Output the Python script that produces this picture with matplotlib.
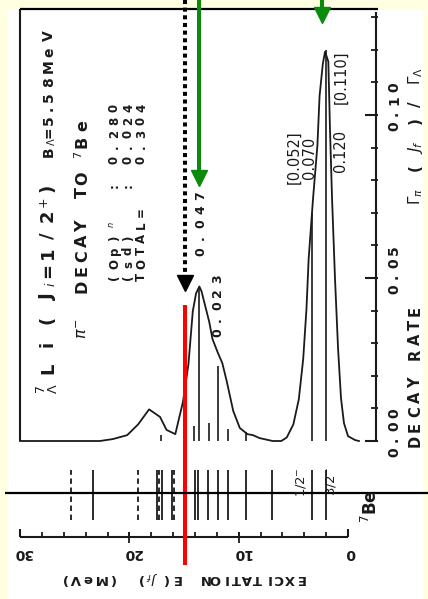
import numpy as np
import matplotlib
matplotlib.use("Agg")
import matplotlib.pyplot as plt
from matplotlib.transforms import Affine2D
from matplotlib.patches import Rectangle

W, H = 428, 599
INK = "#1a1a1a"

# pi- decay rate of 7-Lambda-Li to 7Be, folded spectrum (E in MeV, rate in units of Gamma_Lambda)
spec_E = [30.0, 22.7, 21.5, 20.2, 19.2, 18.2, 17.2, 16.6, 15.8, 15.1, 14.6, 14.2,
          13.9, 13.6, 13.4, 13.1, 12.7, 12.4, 11.9, 11.5, 11.1, 10.5, 9.9, 9.2,
          8.7, 8.1, 6.9, 6.1, 5.6, 5.0, 4.5, 4.1, 3.8, 3.6, 3.2, 2.8, 2.6, 2.3,
          2.1, 1.8, 1.65, 1.46, 1.19, 0.91, 0.64, 0.37, 0.0, -0.64, -1.0]
spec_rate = [0.0, 0.0, 0.0006, 0.0018, 0.0051, 0.0097, 0.0074, 0.0034, 0.0021, 0.0120,
             0.0235, 0.0398, 0.0453, 0.0474, 0.0459, 0.0419, 0.0366, 0.0313, 0.0270,
             0.0239, 0.0184, 0.0092, 0.0040, 0.0021, 0.0018, 0.0009, 0.0, 0.0,
             0.0011, 0.0051, 0.0128, 0.0251, 0.0405, 0.0559, 0.0743, 0.0906, 0.1059,
             0.1158, 0.1194, 0.1164, 0.0959, 0.0744, 0.0499, 0.0284, 0.0131, 0.0055,
             0.0015, 0.0003, 0.0]

# partial rates to single final states
stick_E = [17.1, 14.05, 13.65, 12.76, 11.89, 10.98, 9.29, 3.29, 2.01]
stick_rate = [0.0018, 0.0045, 0.047, 0.0055, 0.023, 0.0037, 0.0027, 0.070, 0.120]
bracket_rate = [0.052, 0.110]   # other calculation, 1/2- and 3/2-

# shell contributions
op_rate = 0.280
sd_rate = 0.024

# 7Be levels
level_E = [25.37, 23.33, 19.21, 17.50, 17.26, 17.02, 16.13, 15.92, 14.00, 13.75,
           12.81, 11.89, 10.98, 9.33, 6.95, 3.29, 2.01]
level_dashed = [True, False, True, False, True, False, False, True, False, False,
                False, False, False, False, False, False, False]

exc_ticks = [30, 28, 26, 24, 22, 20, 18, 16, 14, 12, 10, 8, 6, 4, 2, 0]
exc_major = [30, 20, 10, 0]
rate_ticks = [0.00, 0.01, 0.02, 0.03, 0.04, 0.05, 0.06, 0.07, 0.08, 0.09, 0.10, 0.11, 0.12, 0.13]
rate_major = [0.00, 0.05, 0.10]

# highlighted energies
mark_E = 14.91
arrow_E = [13.63, 2.38]
arrow_tip = [0.0785, 0.1285]

# pixel layout of the sheet
X0, KX = 348, 10.93
Y0, KY = 441, 3260


def ex(px):
    return (X0 - px) / KX


def ry(py):
    return (Y0 - py) / KY


fig = plt.figure(figsize=(W / 100, H / 100), dpi=100, facecolor="#FFFFE1")
ax = fig.add_axes([0, 0, 1, 1])
ax.set_xlim(ex(0), ex(W))
ax.set_ylim(ry(H), ry(0))
ax.axis("off")

PIX = Affine2D().scale(1 / W, -1 / H).translate(0, 1) + fig.transFigure
fig.add_artist(Rectangle((8, 10), 415, 589, transform=PIX, fc="white", ec="none", zorder=-1))


def put(tokens, xs, ys, rot, **kw):
    for t, x, y in zip(tokens, xs, ys):
        if t:
            fig.text(x, y, t, transform=PIX, rotation=rot, rotation_mode="anchor",
                     ha="center", va="baseline", color=INK, **kw)


def column(tokens, x, y0, step, **kw):
    put(tokens, [x] * len(tokens), [y0 - i * step for i in range(len(tokens))], 90, **kw)


BOLD = dict(family="DejaVu Sans", fontweight="bold")

# frame and spectrum
ax.vlines(30, 0, ry(9), color=INK, lw=1.5)
ax.hlines(ry(9), 30, ex(378), color="black", lw=1.6)
ax.plot(spec_E, spec_rate, color=INK, lw=1.3)
ax.vlines(stick_E, 0, stick_rate, color=INK, lw=1.2)

# decay rate axis
ax.vlines(ex(376), 0, ry(12), color=INK, lw=1.5)
ax.hlines(rate_ticks, ex(371), ex(378), color=INK, lw=1.3)
ax.hlines(rate_major, ex(365), ex(378), color=INK, lw=1.5)
for r in rate_major:
    column(list(f"{r:.2f}"), 398, Y0 - r * KY + 11, 13, fontsize=10, **BOLD)

column(list("DECAY RATE"), 420, 441, 14.5, fontsize=10.5, **BOLD)
put([r"$\Gamma_{\pi}$", "(", r"$J_{f}$", ")", "/", r"$\Gamma_{\Lambda}$"],
    [420] * 6, [196, 168, 147, 121, 104, 76], 90, fontsize=11, **BOLD)

# level scheme
for e, d in zip(level_E, level_dashed):
    ax.vlines(e, ry(520), ry(470), color=INK, lw=1.3,
              linestyles=(0, (3, 2)) if d else "solid")
fig.text(301, 482, "1/2$^{-}$", transform=PIX, rotation=90, ha="center", va="center",
         fontsize=9.5, color=INK)
fig.text(331, 481, "3/2$^{-}$", transform=PIX, rotation=90, ha="center", va="center",
         fontsize=9.5, color=INK)
fig.text(371, 506, "${}^{7}$Be", transform=PIX, rotation=90, ha="center", va="center",
         fontsize=12, color=INK, **BOLD)

# excitation axis
ax.hlines(ry(537), 30, 0, color=INK, lw=1.5)
ax.vlines(exc_ticks, ry(537), ry(532), color=INK, lw=1.3)
ax.vlines([10, 20], ry(543), ry(532), color=INK, lw=1.3)
ax.vlines([30, 0], ry(537), ry(529), color=INK, lw=1.5)
for v in exc_major:
    fig.text(X0 - v * KX + 3, 549, str(v), transform=PIX, rotation=180,
             rotation_mode="anchor", ha="center", va="baseline", fontsize=10, color=INK, **BOLD)

put(list("EXCITATION"), [300 - 10.6 * i for i in range(10)], [575] * 10, 180, fontsize=9.5, **BOLD)
put(["E", "(", r"$J_{f}$", ")"], [176, 165, 152, 140], [575] * 4, 180, fontsize=9.5, **BOLD)
put(list("(MeV)"), [112, 100, 88, 76, 64], [575] * 5, 180, fontsize=9.5, **BOLD)

# header text
put([r"${}^{7}_{\Lambda}$", "L", "i", "(", "J", r"$_{i}$", "=", "1", "/", "2", r"$^{+}$", ")"],
    [53] * 12, [389, 368, 344, 320, 297, 284, 270, 253, 236, 216, 203, 188], 90,
    fontsize=13, **BOLD)
put(["B", r"$_{\Lambda}$", "=", "5", ".", "5", "8", "M", "e", "V"],
    [53] * 10, [152, 142, 132, 120, 108, 97, 82, 66, 52, 36], 90, fontsize=10, **BOLD)
put([r"$\pi^{-}$", "D", "E", "C", "A", "Y", "T", "O", r"${}^{7}$", "B", "e"],
    [87] * 11, [329, 286, 271, 256, 241, 226, 192, 178, 155, 142, 126], 90,
    fontsize=11.5, **BOLD)

column(["(", "O", "p", ")", "$^{n}$", "", "", ":", ""] + list(f"{op_rate:.3f}"), 118, 277, 13,
       fontsize=8.5, **BOLD)
column(["(", "s", "d", ")", "", "", "", ":", ""] + list(f"{sd_rate:.3f}"), 132, 277, 13,
       fontsize=8.5, **BOLD)
column(list("TOTAL=") + ["", "", ""] + list(f"{op_rate + sd_rate:.3f}"), 145, 277, 13,
       fontsize=8.5, **BOLD)

# stick values
column(list(f"{stick_rate[2]:.3f}"), 204, 252, 14, fontsize=9, **BOLD)
column(list(f"{stick_rate[4]:.3f}"), 221, 333, 13.5, fontsize=9, **BOLD)
for txt, x, y in [(f"[{bracket_rate[0]:.3f}]", 294, 157), (f"{stick_rate[7]:.3f}", 310, 158),
                  (f"{stick_rate[8]:.3f}", 341, 151), (f"[{bracket_rate[1]:.3f}]", 341, 77)]:
    fig.text(x, y, txt, transform=PIX, rotation=90, ha="center", va="center",
             fontsize=10.5, family="DejaVu Sans", color=INK)

# markers drawn over the figure
ax.vlines(mark_E, ry(565), ry(305), color="red", lw=2.9, zorder=5)
ax.hlines(ry(493), ex(5), ex(W), color="black", lw=1.6, zorder=5)
ax.plot([mark_E, mark_E], [ry(0), ry(277)], color="black", lw=2.9,
        linestyle=(0, (1, 0.9)), dash_capstyle="butt", zorder=6)
ax.plot(mark_E, ry(290) + 7.5 / KY, marker="v", ms=11, color="black", zorder=6)
for e, tip in zip(arrow_E, arrow_tip):
    ax.plot([e, e], [ry(0), tip + 10 / KY], color="#0c8a0c", lw=2.9, zorder=6)
    ax.plot(e, tip + 7.5 / KY, marker="v", ms=11, color="#0c8a0c", zorder=6)

fig.savefig("out.png", dpi=100, facecolor=fig.get_facecolor())
